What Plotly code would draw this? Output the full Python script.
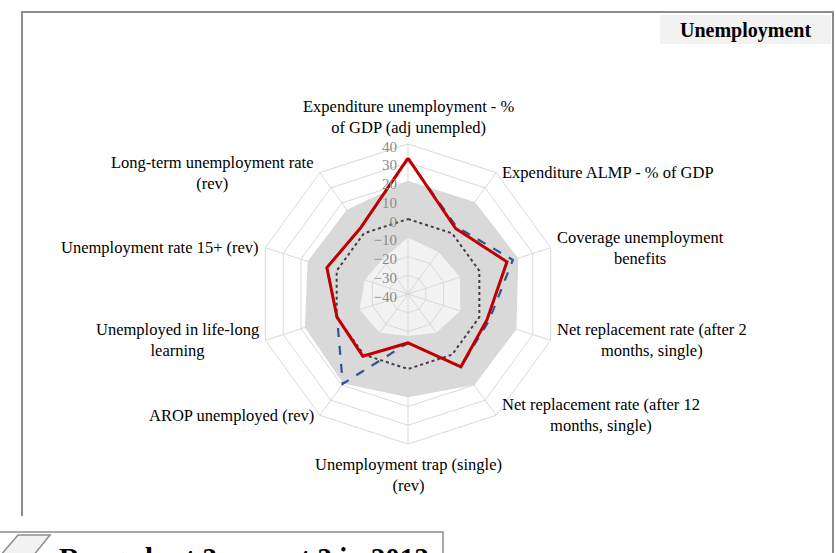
import math
import plotly.graph_objects as go

# ---------------- data ----------------
CATEGORIES = [
    "Expenditure unemployment - %<br>of GDP (adj unempled)",
    "Expenditure ALMP - % of GDP",
    "Coverage unemployment<br>benefits",
    "Net replacement rate (after 2<br>months, single)",
    "Net replacement rate (after 12<br>months, single)",
    "Unemployment trap (single)<br>(rev)",
    "AROP unemployed (rev)",
    "Unemployed in life-long<br>learning",
    "Unemployment rate 15+ (rev)",
    "Long-term unemployment rate<br>(rev)",
]
BEST3 = [20.3, 20.7, 21.8, 20.8, 20.0, 15.0, 19.0, 17.8, 16.3, 15.5]
WORST3 = [-9.8, -12.3, -10.8, -10.7, -14.4, -17.6, -14.4, -12.8, -15.7, -17.0]
EU_AVG = [0, 0, 0, 0, 0, 0, 0, 0, 0, 0]
SERIES_BLUE = [32.0, 4.2, 18.8, 5.5, 8.0, -13.9, 19.2, -0.2, 5.5, 3.3]
SERIES_RED = [32.5, 3.2, 15.5, 4.3, 8.0, -13.9, 1.0, -0.2, 5.5, 3.3]
RADIAL_TICKS = [-40, -30, -20, -10, 0, 10, 20, 30, 40]
TITLE = "Unemployment"
LEGEND_TEXT = "Range best 3 - worst 3 in 2012"

# ---------------- layout helpers ----------------
W, H = 836, 553
CX, CY, R = 408, 294, 150
FONT = "Liberation Serif, Times New Roman, serif"


def px(x):
    return x / W


def py(y):
    return 1 - y / H


def closed(v):
    return list(v) + [v[0]]


theta = closed(CATEGORIES)

fig = go.Figure()

# filled range bands (subplot 1, under the grid)
fig.add_trace(go.Scatterpolar(r=closed(BEST3), theta=theta, subplot="polar",
                              mode="lines", fill="toself", fillcolor="#D9D9D9",
                              line=dict(width=0, color="#D9D9D9"), hoverinfo="skip"))
fig.add_trace(go.Scatterpolar(r=closed(WORST3), theta=theta, subplot="polar",
                              mode="lines", fill="toself", fillcolor="#F2F2F2",
                              line=dict(width=0, color="#F2F2F2"), hoverinfo="skip"))

# lines (subplot 2, above grid)
fig.add_trace(go.Scatterpolar(r=closed(EU_AVG), theta=theta, subplot="polar2",
                              mode="lines", line=dict(color="#404040", width=2, dash="dot")))
fig.add_trace(go.Scatterpolar(r=closed(SERIES_BLUE), theta=theta, subplot="polar2",
                              mode="lines", line=dict(color="#2F5597", width=2.2, dash="dash")))
fig.add_trace(go.Scatterpolar(r=closed(SERIES_RED), theta=theta, subplot="polar2",
                              mode="lines", line=dict(color="#C00000", width=3)))

domain = dict(x=[px(CX - R), px(CX + R)], y=[py(CY + R), py(CY - R)])
common_ang = dict(rotation=90, direction="clockwise", categoryorder="array",
                  categoryarray=CATEGORIES, showticklabels=False, ticks="")

fig.update_layout(
    width=W, height=H, margin=dict(l=0, r=0, t=0, b=0),
    paper_bgcolor="white", showlegend=False,
    font=dict(family=FONT, color="black"),
    polar=dict(
        domain=domain, bgcolor="rgba(0,0,0,0)", gridshape="linear",
        radialaxis=dict(range=[-40, 40], showgrid=False, showline=False,
                        showticklabels=False, ticks=""),
        angularaxis=dict(showgrid=False, showline=False, **common_ang),
    ),
    polar2=dict(
        domain=domain, bgcolor="rgba(0,0,0,0)", gridshape="linear",
        radialaxis=dict(range=[-40, 40], tickvals=RADIAL_TICKS, angle=90,
                        side="counterclockwise", showline=False, ticks="",
                        gridcolor="#D9D9D9", gridwidth=1, layer="above traces",
                        tickfont=dict(family=FONT, size=15, color="#8C8C8C")),
        angularaxis=dict(showgrid=True, gridcolor="#D9D9D9", gridwidth=1,
                         showline=True, linecolor="#D9D9D9", linewidth=1,
                         layer="below traces", **common_ang),
    ),
)

# category labels placed just outside each spoke
annotations = []
n = len(CATEGORIES)
for i, lab in enumerate(CATEGORIES):
    ang = 2 * math.pi * i / n
    vx = CX + R * math.sin(ang)
    vy = CY - R * math.cos(ang)
    s = math.sin(ang)
    if abs(s) < 1e-6:
        if math.cos(ang) > 0:
            ax, ay, xa, ya = vx, vy - 5, "center", "bottom"
        else:
            ax, ay, xa, ya = vx, vy + 9, "center", "top"
    elif s > 0:
        ax, ay, xa, ya = vx + 4, vy, "left", "middle"
    else:
        ax, ay, xa, ya = vx - 4, vy, "right", "middle"
    annotations.append(dict(x=px(ax), y=py(ay), xref="paper", yref="paper",
                            text=lab, showarrow=False, xanchor=xa, yanchor=ya,
                            align="center", font=dict(family=FONT, size=16.5, color="black")))

# title
annotations.append(dict(x=px(745), y=py(30), xref="paper", yref="paper", text="<b>" + TITLE + "</b>",
                        showarrow=False, xanchor="center", yanchor="middle",
                        font=dict(family=FONT, size=20, color="black")))
# legend text (partly cut off by the page edge, as in the reference)
annotations.append(dict(x=px(57), y=py(558), xref="paper", yref="paper", text="<b>" + LEGEND_TEXT + "</b>",
                        showarrow=False, xanchor="left", yanchor="middle",
                        font=dict(family=FONT, size=29, color="black")))

shapes = [
    # outer frame
    dict(type="line", xref="paper", yref="paper", x0=px(22), y0=py(12), x1=px(22), y1=py(516),
         line=dict(color="#8C8C8C", width=2)),
    dict(type="line", xref="paper", yref="paper", x0=px(21), y0=py(12), x1=px(834), y1=py(12),
         line=dict(color="#8C8C8C", width=2)),
    dict(type="line", xref="paper", yref="paper", x0=px(833), y0=py(12), x1=px(833), y1=py(560),
         line=dict(color="#8C8C8C", width=2)),
    # title box
    dict(type="rect", xref="paper", yref="paper", x0=px(660), y0=py(44), x1=px(831), y1=py(15),
         fillcolor="#F2F2F2", line=dict(width=0), layer="below"),
    # legend box
    dict(type="rect", xref="paper", yref="paper", x0=px(-3), y0=py(570), x1=px(443), y1=py(532),
         fillcolor="white", line=dict(color="#8C8C8C", width=1.5), layer="below"),
    dict(type="path", xref="paper", yref="paper",
         path=f"M {px(0)} {py(556)} L {px(18)} {py(535)} L {px(50)} {py(535)} L {px(33)} {py(556)} Z",
         fillcolor="#F2F2F2", line=dict(color="#8C8C8C", width=1.5), layer="above"),
]

fig.update_layout(annotations=annotations, shapes=shapes)
fig.write_html("out.html", config={"displayModeBar": False},
               post_script="document.body.style.margin='0';document.body.style.overflow='hidden';")
